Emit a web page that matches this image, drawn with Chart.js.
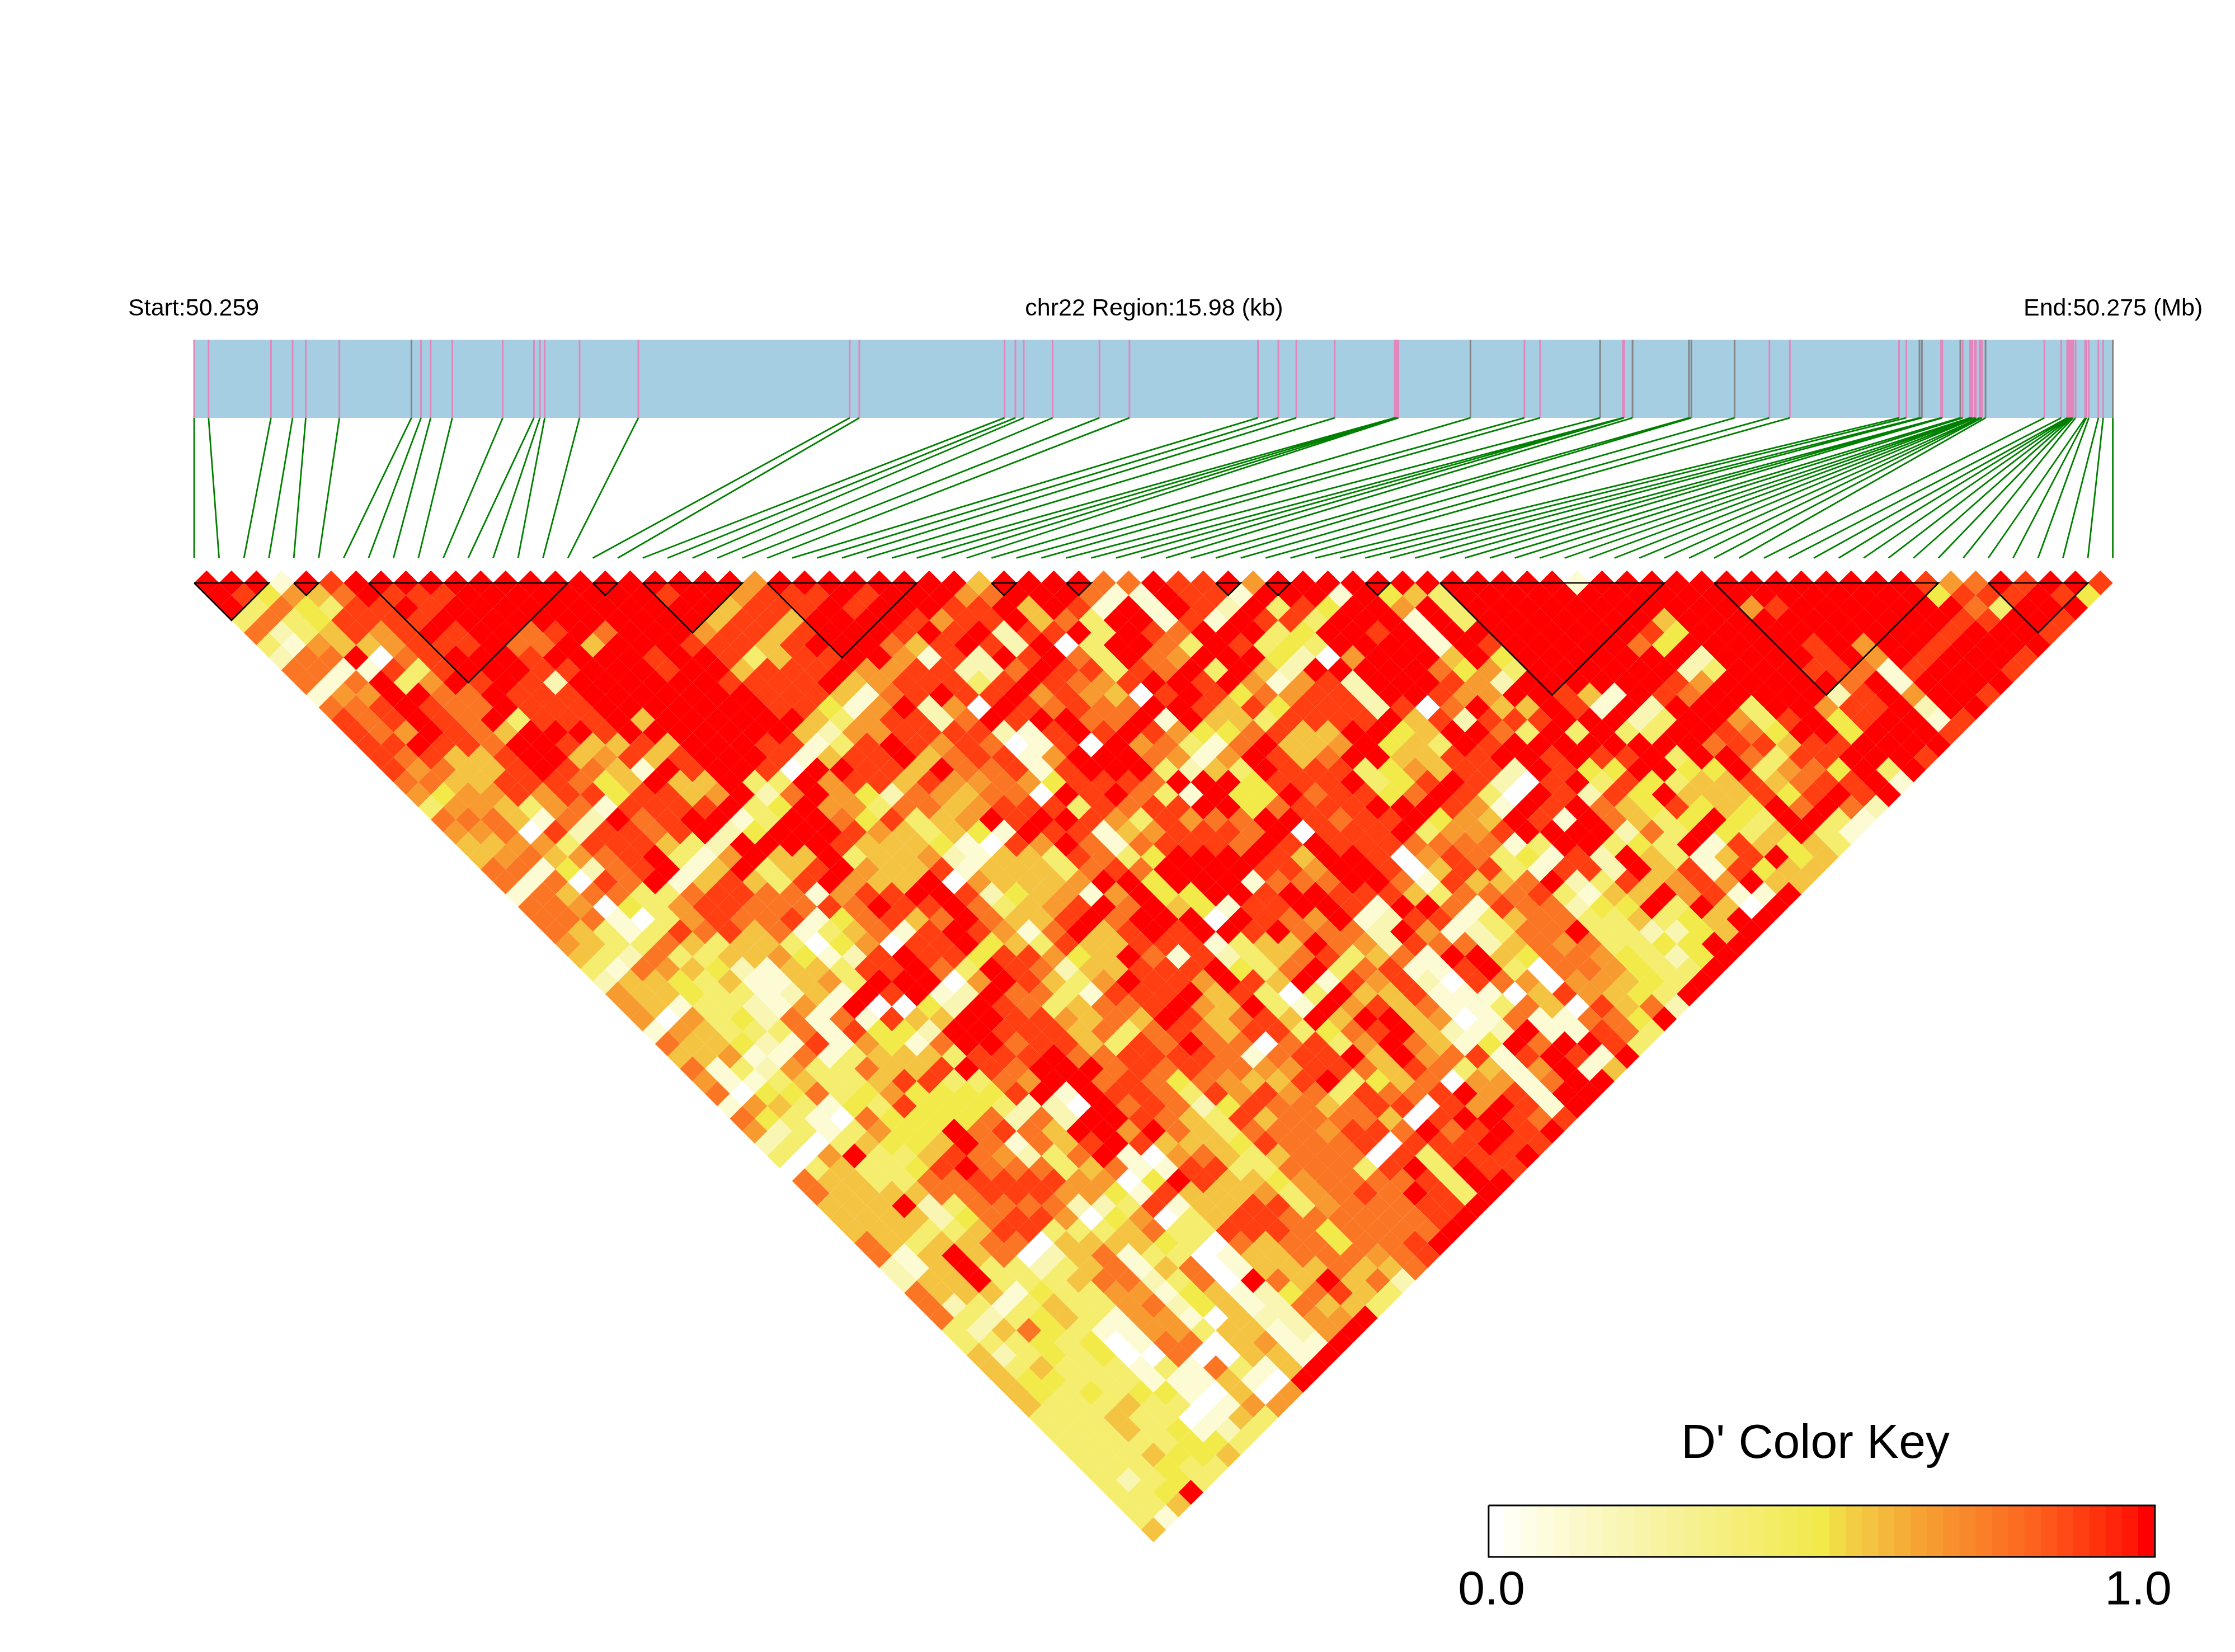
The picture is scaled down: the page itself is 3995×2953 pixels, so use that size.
<!DOCTYPE html>
<html>
<head>
<meta charset="utf-8">
<title>LD heatmap chr22</title>
<script src="https://cdn.jsdelivr.net/npm/chart.js@4/dist/chart.umd.min.js"></script>
<style>
  html, body { margin: 0; padding: 0; background: #fff; }
  canvas { display: block; }
</style>
</head>
<body>
<canvas id="ldChart" width="3995" height="2953" style="width:3995px;height:2953px"></canvas>
<script>
const regionKb = 15.98;

// SNP positions inside the region, kb from the start
const snpKb = [
  0, 0.12, 0.64, 0.82, 0.93, 1.21, 1.81, 1.89, 1.97, 2.15, 2.57, 2.83, 2.88, 2.92, 3.21, 3.70,
  5.46, 5.54, 6.75, 6.84, 6.91, 7.15, 7.54, 7.79, 8.86, 9.03, 9.18, 9.50,
  10.00, 10.01, 10.02, 10.03, 10.63, 11.08, 11.21, 11.71, 11.90, 11.90, 11.91, 11.98,
  12.45, 12.47, 12.83, 13.12, 13.29, 14.20, 14.26, 14.37, 14.39, 14.55, 14.55, 14.56,
  14.71, 14.73, 14.79, 14.80, 14.81, 14.83, 14.84, 14.87, 14.88, 14.89, 14.92,
  15.41, 15.55, 15.60, 15.61, 15.62, 15.63, 15.64, 15.65, 15.67, 15.75, 15.76, 15.78, 15.86, 15.90, 15.98
];
// SNPs with a grey tick, the others are pink
const greySnps = [6, 32, 35, 39, 40, 41, 42, 47, 48, 52, 62, 77];

// LD blocks as first and last SNP
const blockStart = [0, 4, 7, 16, 18, 23, 32, 35, 41, 43, 47, 50, 61, 72];
const blockEnd = [3, 5, 15, 17, 22, 29, 33, 36, 42, 44, 48, 59, 70, 76];

// D', one string per distance between SNPs, each digit is a level of levelValues
const levelValues = [0, 0.1, 0.2, 0.4, 0.5, 0.575, 0.675, 0.775, 0.9, 1];
const ldRows = [
  "9991989999 9999999999 9969999999 9599997798 8969999999 9999919999 9999999998 6798998",
  "9846579888 9999999989 9688898999 6799971198 8199919453 9999999999 9999999994 888984",
  "9374388989 9999999999 5888989998 8959819198 2938499693 9999999999 9689999999 73999",
  "3734888899 9999999995 8859999868 8957399181 9883999193 9999999599 9999999998 8998",
  "7235868989 9789799968 8589998989 2889398799 9349989199 9999998499 9999999989 998",
  "3165568889 7795999888 5899975898 2903997398 3439999198 9999974999 9989699899 99",
  "2779078999 8999989983 5889961829 8973976999 4206999594 9999999299 9989698999 8",
  "7711838999 8899989958 8896688227 9883879395 2999997463 9999992399 9887189998",
  "7179369898 2999999888 8956888389 8768998961 6829998629 9999986999 997919999",
  "1669977988 8999999988 8517898896 8650898476 8829986699 8519879999 92896998",
  "7789877988 8999999988 4169260987 8779985848 8828079559 8192999399 6889299",
  "8789879388 8959999995 3688279899 7791955388 8895828889 9923996389 489918",
  "8769875999 8999999952 6688882189 8986447855 9945997393 9339987499 49998",
  "8898879985 5859998813 8986870180 9673179556 9453989999 9999788588 9999",
  "8785589956 8589998158 8957881699 9761698579 9558899898 8939973889 998",
  "8675589875 1989980998 8597781899 9325398883 4658829844 9944936749 39",
  "7755888745 9559339688 5866764888 7999488893 4898208938 4355857889 1",
  "6466868848 8569279642 7657709897 3194497884 7983098284 9555848989",
  "3665367188 8893496637 7568883878 8994788899 9861989754 845497972",
  "7775172978 9913997483 5698998638 6779987889 4659819753 49439931",
  "6670828878 9249998653 5419881568 8879088893 6689999273 9435931",
  "5566388853 2999985554 1086971788 8798988877 7713993439 185453",
  "5675678931 6955935562 1553873499 9985998068 7341829531 58945",
  "7714278915 9358965581 5553787999 9886998058 8318829581 8455",
  "7170879158 5389655906 5556994999 1777997185 5792385686 955",
  "1757733788 7716889982 4561694499 8998885377 7831559681 19",
  "7760436887 7787988973 5689795418 8998199718 7724493950 9",
  "7771036877 8147857975 5897999098 7691288135 7733534599",
  "7531387857 1357189861 7958989989 7772961237 793322459",
  "6533753553 0460889453 8558881355 9762877257 67334499",
  "5327335564 1289884886 4597182357 8357199547 7643249",
  "3176542155 3889739872 5588894379 3781189307 764339",
  "2554351156 3999069853 6988698591 8682087606 65439",
  "6554331251 9891297731 8889583039 5581110586 5439",
  "6513321619 0042987357 7896593196 8571137508 572",
  "6063427171 8559988657 5985785959 9560171177 49",
  "1653337184 4299888573 7875883478 9521291187 3",
  "7554218164 1799788538 7977078369 7514979983",
  "5561171355 5388897788 8871788959 678189819",
  "7132633755 8987999787 8776688758 73516915",
  "6113533588 3376997874 7655893457 0661799",
  "7044734644 4489198873 8686738778 968199",
  "1653143844 4322097872 4877578808 69819",
  "7431074444 7272998753 8577775089 9878",
  "6231364497 8759969753 7776887978 989",
  "2303544597 1758985554 8777808889 88",
  "3069335876 2379106753 5777083888 9",
  "0353348977 7357118833 7773893988",
  "7553377888 8660498554 677778399",
  "7555577888 6641855563 67879839",
  "5559237777 2238155883 6777889",
  "5555247886 0460358877 777789",
  "5553358833 3573388874 77779",
  "7535577055 5543075774 7789",
  "7159570257 1330155777 678",
  "2159332357 1570155575 57",
  "2559333577 2370975957 2",
  "7555143366 1451247853",
  "7231353367 245127553",
  "7323453166 10522669",
  "3257431166 3551269",
  "3334340177 056119",
  "5234340070 05519",
  "5353331317 3159",
  "5443331115 109",
  "5434344105 06",
  "5333533016 6",
  "3335330153",
  "333534123",
  "33333443",
  "3335445",
  "333433",
  "32343",
  "3349",
  "335",
  "31",
  "5"
];

// the colour key, white over yellow and orange to red
const keyColors = [
  "#ffffff", "#fffff4", "#fefee8", "#fdfddd", "#fcfbd4", "#fbf9cc", "#fbf8c4", "#faf7bb", "#f9f5b3",
  "#f8f4aa", "#f8f3a1", "#f7f299", "#f6f190", "#f6f088", "#f5ef7f", "#f4ee76", "#f4ed6d", "#f3ec65",
  "#f2eb5c", "#f1ea53", "#f1ea48", "#f2dc46", "#f3ce43", "#f4c341", "#f4b83c", "#f5ae38", "#f6a334",
  "#f79a30", "#f8912d", "#f9882a", "#fa7f27", "#fb7624", "#fc6c21", "#fd621e", "#fe571a", "#ff4c16",
  "#ff3f12", "#ff320e", "#ff250a", "#ff1806", "#ff0000"
];

const pageTexts = [
  { text: "Start:50.259", x: 229, y: 564, size: 43, align: "left" },
  { text: "chr22 Region:15.98 (kb)", x: 2063, y: 564, size: 43, align: "center" },
  { text: "End:50.275 (Mb)", x: 3617, y: 564, size: 43, align: "left" },
  { text: "D' Color Key", x: 3245, y: 2606, size: 86, align: "center" },
  { text: "0.0", x: 2666, y: 2868, size: 86, align: "center" },
  { text: "1.0", x: 3822, y: 2868, size: 86, align: "center" }
];

// x axis counts SNPs and y axis counts rows of the triangle, these limits fit them to the page
const xUnit = 44.54, yUnit = 22.27;
const xMin = -347 / xUnit, xMax = (3995 - 347) / xUnit;
const yMin = 1 - 1042 / yUnit, yMax = 1 + (2953 - 1042) / yUnit;

const stripTop = -18.51, stripBottom = -12.25, connectorEnd = -1;
const keyLeft = 51.95, keyRight = 78.69, keyTop = 75.05, keyBottom = 79.18;

function kbToX(kb) {
  return kb / regionKb * (snpKb.length - 1);
}

// cells of the triangle
const cells = [];
const cellColors = [];
ldRows.forEach(function (row, r) {
  const digits = row.replace(/ /g, "");
  for (let i = 0; i < digits.length; i++) {
    const dPrime = levelValues[Number(digits[i])];
    const dist = r + 1;
    cells.push({ x: i + dist / 2, y: dist });
    cellColors.push(keyColors[Math.round(dPrime * (keyColors.length - 1))]);
  }
});

const pinkTicks = [], greyTicks = [], connectors = [];
snpKb.forEach(function (kb, i) {
  const x = kbToX(kb);
  const ticks = greySnps.includes(i) ? greyTicks : pinkTicks;
  ticks.push({ x: x, y: stripTop }, { x: x, y: stripBottom }, { x: NaN, y: NaN });
  connectors.push({ x: x, y: stripBottom }, { x: i, y: connectorEnd }, { x: NaN, y: NaN });
});

const blocks = [];
blockStart.forEach(function (first, b) {
  const last = blockEnd[b];
  blocks.push({ x: first, y: 1 }, { x: last, y: 1 }, { x: (first + last) / 2, y: 1 + last - first }, { x: first, y: 1 }, { x: NaN, y: NaN });
});

const keyStep = (keyRight - keyLeft) / keyColors.length;
const keyCells = keyColors.map(function (c, k) {
  return { x: keyLeft + keyStep * (k + 0.5), y: [keyTop, keyBottom] };
});

const textPlugin = {
  id: "pageTexts",
  afterDatasetsDraw: function (chart) {
    const ctx = chart.ctx;
    ctx.save();
    ctx.fillStyle = "#000";
    ctx.textBaseline = "alphabetic";
    pageTexts.forEach(function (t) {
      ctx.font = t.size + 'px "Liberation Sans"';
      ctx.textAlign = t.align;
      ctx.fillText(t.text, t.x, t.y);
    });
    ctx.restore();
  }
};

function lineSet(data, color, width, order) {
  return {
    data: data,
    showLine: true,
    pointRadius: 0,
    borderColor: color,
    borderWidth: width,
    order: order
  };
}

new Chart(document.getElementById("ldChart"), {
  type: "scatter",
  data: {
    datasets: [
      lineSet(blocks, "#000000", 2.6, 0),
      {
        data: cells,
        pointStyle: "rectRot",
        pointBorderWidth: 0,
        pointBackgroundColor: cellColors,
        pointRadius: function (ctx) {
          const xs = ctx.chart.scales.x;
          return (xs.getPixelForValue(0.5) - xs.getPixelForValue(0)) + 0.1;
        },
        order: 2
      },
      lineSet(connectors, "#008000", 2.8, 3),
      lineSet(pinkTicks, "#e286bc", 3, 4),
      lineSet(greyTicks, "#858585", 3, 4),
      lineSet([{ x: 0, y: (stripTop + stripBottom) / 2 }, { x: snpKb.length - 1, y: (stripTop + stripBottom) / 2 }], "#a6cee3", (stripBottom - stripTop) * yUnit, 5),
      lineSet([
        { x: keyLeft, y: keyTop }, { x: keyRight, y: keyTop }, { x: keyRight, y: keyBottom },
        { x: keyLeft, y: keyBottom }, { x: keyLeft, y: keyTop }
      ], "#000000", 3, 1),
      {
        type: "bar",
        data: keyCells,
        backgroundColor: keyColors,
        barThickness: 30,
        order: 2
      }
    ]
  },
  options: {
    responsive: false,
    animation: false,
    devicePixelRatio: 1,
    layout: { padding: 0 },
    scales: {
      x: { type: "linear", min: xMin, max: xMax, offset: false, display: false },
      y: { type: "linear", min: yMin, max: yMax, reverse: true, display: false }
    },
    plugins: {
      legend: { display: false },
      tooltip: { enabled: false }
    }
  },
  plugins: [textPlugin]
});
</script>
</body>
</html>
